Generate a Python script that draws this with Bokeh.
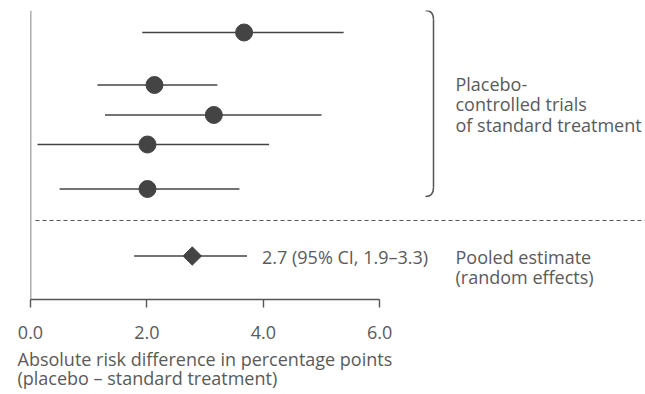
import math
from bokeh.plotting import figure
from bokeh.models import Range1d, FixedTicker, Span, Title
from bokeh.core.properties import value
from bokeh.embed import file_html
from bokeh.resources import INLINE

# ---- data ----
trial_est = [3.67, 2.13, 3.15, 2.01, 2.01]
trial_lo = [1.92, 1.15, 1.28, 0.12, 0.50]
trial_hi = [5.38, 3.21, 5.00, 4.10, 3.59]
pooled_est = [2.78]
pooled_lo = [1.78]
pooled_hi = [3.72]
pooled_text = "2.7 (95% CI, 1.9–3.3)"
x_ticks = [0, 2, 4, 6]
tick_labels = {0: "0.0", 2: "2.0", 4: "4.0", 6: "6.0"}
group_lines = ["Placebo-", "controlled trials", "of standard treatment"]
pooled_lines = ["Pooled estimate", "(random effects)"]
axis_lines = ["Absolute risk difference in percentage points",
              "(placebo \u2013 standard treatment)"]

# ---- layout (positions / styles) ----
row_y = [267, 214.5, 184.5, 155, 110.5]
pooled_y = [43.5]
divider_y = 79
group_text_y = [216, 195.5, 175]
pooled_text_y = [43, 23]
FONT_NAME = "Open Sans"
FONT = value(FONT_NAME)
FS = "18px"
TXT = "#5a5a5a"
MARK = "#444444"
PX_PER_UNIT = 58.2
W, H = 645, 394
LEFT, TOP, BOTTOM = 30, 10, 95
frame_w = W - LEFT
frame_h = H - TOP - BOTTOM

p = figure(width=W, height=H, output_backend="svg", toolbar_location=None,
           x_range=Range1d(0, frame_w / PX_PER_UNIT), y_range=Range1d(0, frame_h),
           y_axis_location=None, min_border_left=LEFT, min_border_right=0,
           min_border_top=TOP, min_border_bottom=BOTTOM)
p.grid.visible = False
p.outline_line_color = None
p.background_fill_color = "white"
p.border_fill_color = "white"

# x axis
ax = p.xaxis[0]
ax.ticker = FixedTicker(ticks=x_ticks)
ax.major_label_overrides = tick_labels
ax.bounds = (x_ticks[0], x_ticks[-1])
ax.axis_line_color = "#555555"
ax.axis_line_width = 1.4
ax.major_tick_line_color = "#555555"
ax.major_tick_line_width = 1.4
ax.major_tick_in = 0
ax.major_tick_out = 8
ax.minor_tick_line_color = None
ax.major_label_text_font = FONT_NAME
ax.major_label_text_font_size = FS
ax.major_label_text_color = TXT
ax.major_label_standoff = 18

# axis title as two left-aligned lines below the axis
p.add_layout(Title(text="\n".join(axis_lines), align="left", offset=-13, standoff=8,
                   text_font=FONT_NAME, text_font_size=FS, text_font_style="normal",
                   text_line_height=0.8, text_color=TXT), "below")

# vertical axis line at 0
p.add_layout(Span(location=0, dimension="height", line_color="#666666", line_width=1.6))

# trials
p.segment(x0=trial_lo, y0=row_y, x1=trial_hi, y1=row_y, line_color=MARK, line_width=1.4)
p.scatter(x=trial_est, y=row_y, marker="circle", size=17, fill_color=MARK, line_color=MARK)

# divider
p.segment(x0=[5 / PX_PER_UNIT], y0=[divider_y], x1=[frame_w / PX_PER_UNIT], y1=[divider_y],
          line_color="#555555", line_width=1.2, line_dash="4 3")

# pooled
p.segment(x0=pooled_lo, y0=pooled_y, x1=pooled_hi, y1=pooled_y, line_color=MARK, line_width=1.4)
p.scatter(x=pooled_est, y=pooled_y, marker="square", angle=math.pi / 4, size=13,
          fill_color=MARK, line_color=MARK)
p.text(x=pooled_hi, y=pooled_y, text=[pooled_text], x_offset=15, y_offset=1,
       text_font=FONT, text_font_size=FS, text_color=TXT, text_baseline="middle")

# bracket
bx = (433 - 30) / PX_PER_UNIT
hx = (425 - 30) / PX_PER_UNIT
top_b, bot_b, hook = 289, 103, 9
p.quadratic(x0=[hx, bx], y0=[top_b, bot_b + hook], x1=[bx, hx], y1=[top_b - hook, bot_b],
            cx=[bx, bx], cy=[top_b, bot_b], line_color="#555555", line_width=1.5)
p.segment(x0=[bx], y0=[top_b - hook], x1=[bx], y1=[bot_b + hook], line_color="#555555", line_width=1.5)

# right side text
tx = (455 - 30) / PX_PER_UNIT
p.text(x=[tx] * 3, y=group_text_y, text=group_lines, text_font=FONT, text_font_size=FS,
       text_color=TXT, text_baseline="middle")
p.text(x=[tx] * 2, y=pooled_text_y, text=pooled_lines, text_font=FONT, text_font_size=FS,
       text_color=TXT, text_baseline="middle")

open("out.html", "w").write(file_html(p, INLINE))
